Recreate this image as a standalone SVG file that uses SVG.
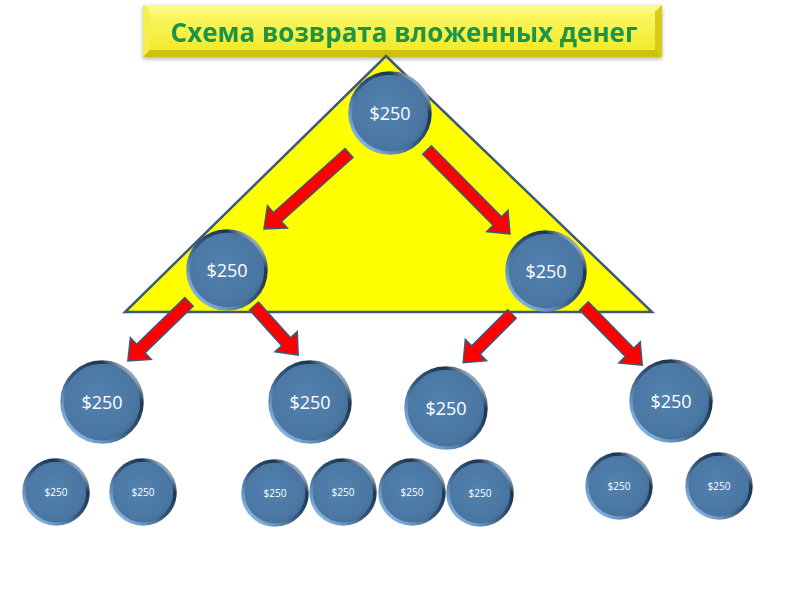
<svg xmlns="http://www.w3.org/2000/svg" width="800" height="600" viewBox="0 0 800 600">
<defs>
<radialGradient id="face" cx="0.45" cy="0.45" r="0.6">
<stop offset="0" stop-color="#5282b0"/>
<stop offset="0.8" stop-color="#4a76a2"/>
<stop offset="1" stop-color="#3f6890"/>
</radialGradient>
<linearGradient id="rim" x1="0.15" y1="0.85" x2="0.85" y2="0.15">
<stop offset="0" stop-color="#7fb0dc"/>
<stop offset="0.45" stop-color="#34597e"/>
<stop offset="0.85" stop-color="#1c3550"/>
<stop offset="1" stop-color="#8ea4ba"/>
</linearGradient>
<linearGradient id="ban" x1="0" y1="0" x2="0" y2="1">
<stop offset="0" stop-color="#fbf86a"/>
<stop offset="1" stop-color="#f2ea2a"/>
</linearGradient>
<filter id="sh" x="-10%" y="-10%" width="120%" height="130%">
<feDropShadow dx="0" dy="2" stdDeviation="2" flood-color="#000" flood-opacity="0.3"/>
</filter>
</defs>
<style>
.tri{fill:#ffff00;stroke:#3d5a78;stroke-width:2.5}
.arr{fill:#ff0000;stroke:#3d5a78;stroke-width:1.5;stroke-linejoin:miter}
.c{fill:url(#face);stroke:url(#rim);stroke-width:3.5}
.lg{font-family:"Open Sans","Liberation Sans",sans-serif;font-size:18px;fill:#ffffff;text-anchor:middle}
.sm{font-family:"Open Sans","Liberation Sans",sans-serif;font-size:10px;fill:#ffffff;text-anchor:middle}
.title{font-family:"Open Sans","Liberation Sans",sans-serif;font-weight:bold;font-size:26px;fill:#1b944a;text-anchor:middle}
</style>
<rect width="800" height="600" fill="#ffffff"/>

<g id="title" filter="url(#sh)">
<rect x="143" y="5" width="519" height="52" fill="#e6dc28"/>
<polygon points="143,5 662,5 655,12 150,12" fill="#fbf98a"/>
<polygon points="143,5 150,12 150,50 143,57" fill="#f4ee50"/>
<polygon points="662,5 655,12 655,50 662,57" fill="#d8cc18"/>
<polygon points="143,57 150,50 655,50 662,57" fill="#cfc010"/>
<rect x="150" y="12" width="505" height="38" fill="url(#ban)"/>
<text class="title" x="404" y="42">Схема возврата вложенных денег</text>
</g>

<polygon id="triangle" class="tri" points="386,56 652,312 125,312"/>

<g id="connectors">
<path class="arr" d="M0,-6 H96 V-15 L114,0 L96,15 V6 H0 Z" transform="translate(349,153) rotate(138.2)"/>
<path class="arr" d="M0,-6 H100 V-15 L118,0 L100,15 V6 H0 Z" transform="translate(427,150) rotate(45.3)"/>
<path class="arr" d="M0,-6 H67 V-15 L85,0 L67,15 V6 H0 Z" transform="translate(189,302) rotate(136)"/>
<path class="arr" d="M0,-6 H48 V-15 L66,0 L48,15 V6 H0 Z" transform="translate(254,306) rotate(48)"/>
<path class="arr" d="M0,-6 H51 V-15 L69,0 L51,15 V6 H0 Z" transform="translate(512,314) rotate(135)"/>
<path class="arr" d="M0,-6 H65 V-15 L83,0 L65,15 V6 H0 Z" transform="translate(584,306) rotate(45.5)"/>
</g>

<g id="n1"><circle class="c" cx="390" cy="113" r="40"/><text class="lg" x="390" y="120">$250</text></g>
<g id="n2"><circle class="c" cx="227" cy="270" r="39"/><text class="lg" x="227" y="277">$250</text></g>
<g id="n3"><circle class="c" cx="546" cy="271" r="39"/><text class="lg" x="546" y="278">$250</text></g>

<g id="n4"><circle class="c" cx="102" cy="402" r="40"/><text class="lg" x="102" y="409">$250</text></g>
<g id="n5"><circle class="c" cx="310" cy="402" r="40"/><text class="lg" x="310" y="409">$250</text></g>
<g id="n6"><circle class="c" cx="446" cy="408" r="40"/><text class="lg" x="446" y="415">$250</text></g>
<g id="n7"><circle class="c" cx="671" cy="401" r="40"/><text class="lg" x="671" y="408">$250</text></g>

<g id="n8"><circle class="c" cx="56" cy="492" r="32"/><text class="sm" x="56" y="496">$250</text></g>
<g id="n9"><circle class="c" cx="143" cy="492" r="32"/><text class="sm" x="143" y="496">$250</text></g>
<g id="n10"><circle class="c" cx="275" cy="493" r="32"/><text class="sm" x="275" y="497">$250</text></g>
<g id="n11"><circle class="c" cx="343" cy="492" r="32"/><text class="sm" x="343" y="496">$250</text></g>
<g id="n12"><circle class="c" cx="412" cy="492" r="32"/><text class="sm" x="412" y="496">$250</text></g>
<g id="n13"><circle class="c" cx="480" cy="493" r="32"/><text class="sm" x="480" y="497">$250</text></g>
<g id="n14"><circle class="c" cx="619" cy="486" r="32"/><text class="sm" x="619" y="490">$250</text></g>
<g id="n15"><circle class="c" cx="719" cy="486" r="32"/><text class="sm" x="719" y="490">$250</text></g>
</svg>
